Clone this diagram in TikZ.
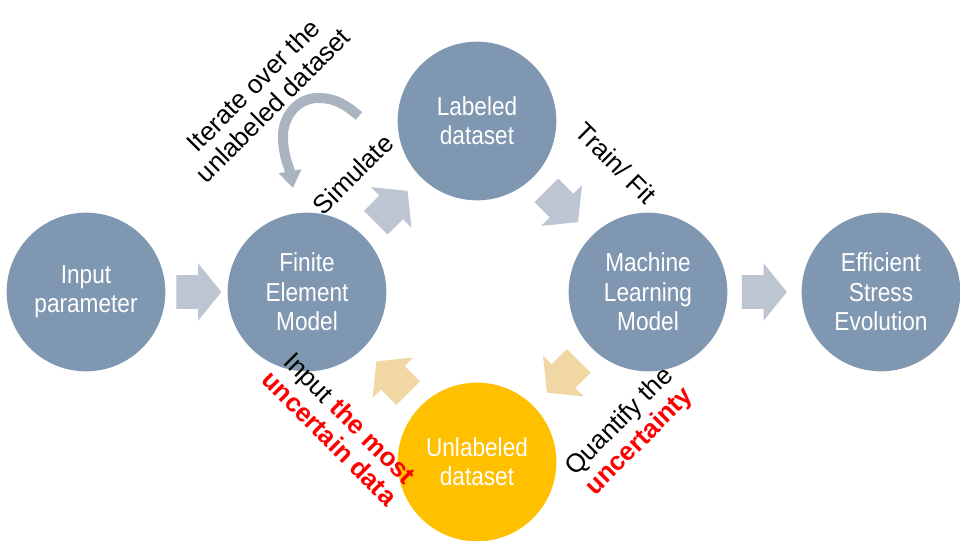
\documentclass[tikz,border=0pt]{standalone}
\usepackage{fontspec}
\setmainfont{Liberation Sans}
\newfontfamily\narrowfont{Liberation Sans}[FakeStretch=0.87]
\usetikzlibrary{shapes.arrows,calc,arrows.meta}
\definecolor{nodeblue}{RGB}{127,151,176}
\definecolor{nodeyellow}{RGB}{255,192,0}
\definecolor{arrowgray}{RGB}{189,197,211}
\definecolor{arrowtan}{RGB}{241,215,163}
\definecolor{loopgray}{RGB}{169,180,192}
\definecolor{hired}{RGB}{255,0,0}
\begin{document}
\begin{tikzpicture}[x=0.75pt,y=0.75pt,
  stage/.style={circle,fill=nodeblue,minimum size=119pt,inner sep=0pt,text=white,
    font=\narrowfont\fontsize{19.5}{22}\selectfont,align=center},
  blockarrow/.style={single arrow,fill=arrowgray,draw=none,minimum height=33.75pt,
    minimum width=42.75pt,single arrow head extend=9pt,single arrow tip angle=102,
    inner xsep=0pt,inner ysep=12.375pt},
  lbl/.style={font=\fontsize{19.5}{21}\selectfont,align=center,text=black,inner sep=0pt},
  hot/.style={text=hired,font=\bfseries}
]
\useasboundingbox (0,0) rectangle (960,540);

% stages
\node[stage] (inp) at (86,248) {Input\\parameter};
\node[stage] (fem) at (307,248) {Finite\\Element\\Model};
\node[stage] (lab) at (477,419) {Labeled\\dataset};
\node[stage] (ml)  at (648,248) {Machine\\Learning\\Model};
\node[stage] (eff) at (881,248) {Efficient\\Stress\\Evolution};
\node[stage,fill=nodeyellow] (unl) at (477,78) {Unlabeled\\dataset};

% block arrows
\node[blockarrow] (a1) at ($(inp)!0.48!(fem)$) {};
\node[blockarrow,rotate=45] (a2) at ($(fem)!0.47!(lab)$) {};
\node[blockarrow,rotate=-45] (a3) at ($(lab)!0.47!(ml)$) {};
\node[blockarrow,fill=arrowtan,rotate=-135] (a4) at ($(ml)!0.47!(unl)$) {};
\node[blockarrow,fill=arrowtan,rotate=135] (a5) at ($(unl)!0.47!(fem)$) {};
\node[blockarrow] (a6) at ($(ml)!0.47!(eff)$) {};

% iteration loop
\coordinate (loopstart) at (359,424);
\coordinate (looptop) at (318,442);
\coordinate (loopleft) at (283,404);
\coordinate (looptip) at (293,352);
\draw[loopgray,line width=7.5pt,-{Triangle[width=16.5pt,length=12.75pt]}]
  (loopstart) to[out=140,in=0] (looptop) to[out=180,in=90] (loopleft)
  to[out=-90,in=100] (looptip);

% labels
\node[lbl,rotate=45] (lIter) at (263,445) {Iterate over the\\unlabeled dataset};
\node[lbl,rotate=45] (lSim) at (353,366) {Simulate};
\node[lbl,rotate=-45] (lTrain) at (616,377) {Train/ Fit};
\node[lbl,rotate=-45] (lInput) at (340,112) {Input {\color{hired}\bfseries the most}\\{\color{hired}\bfseries uncertain data}};
\node[lbl,rotate=45] (lQuant) at (630,108) {Quantify the\\{\color{hired}\bfseries uncertainty}};
\end{tikzpicture}
\end{document}
